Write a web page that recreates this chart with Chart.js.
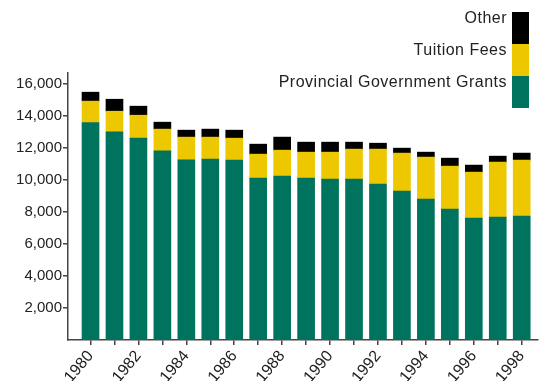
<!DOCTYPE html>
<html>
<head>
<meta charset="utf-8">
<script src="https://cdn.jsdelivr.net/npm/chart.js@4/dist/chart.umd.min.js"></script>
<style>
  html, body { margin: 0; padding: 0; background: #fff; }
  #wrap { width: 546px; height: 381px; position: relative; }
</style>
</head>
<body>
<div id="wrap"><canvas id="c" width="546" height="381"></canvas></div>
<script>
const years = [1980,1981,1982,1983,1984,1985,1986,1987,1988,1989,1990,1991,1992,1993,1994,1995,1996,1997,1998];
const provincialGrants = [13600,13020,12625,11830,11270,11310,11250,10125,10250,10125,10060,10060,9750,9310,8810,8190,7625,7690,7750];
const tuitionFees = [1340,1290,1435,1360,1420,1380,1375,1500,1625,1625,1690,1880,2190,2380,2630,2685,2875,3435,3500];
const other = [560,750,565,435,435,500,500,625,815,625,625,435,370,310,310,500,440,375,440];
const yTicks = [2000,4000,6000,8000,10000,12000,14000,16000];

const GREEN = '#00735f', YELLOW = '#edc800', BLACK = '#000000';
const FONT = 'Liberation Sans, Arial, Helvetica, sans-serif';
const TEXT = '#222222';
const AXIS = '#444444';

const legendPlugin = {
  id: 'stackLegend',
  afterDraw(chart) {
    const ctx = chart.ctx;
    const ds = chart.data.datasets;
    const order = [2, 1, 0];
    const bx = 512, bw = 17, bh = 32, by0 = 12;
    ctx.save();
    ctx.font = '16px ' + FONT;
    if ('letterSpacing' in ctx) ctx.letterSpacing = '0.5px';
    ctx.textAlign = 'right';
    ctx.textBaseline = 'middle';
    order.forEach((di, i) => {
      const y = by0 + i * bh;
      ctx.fillStyle = ds[di].backgroundColor;
      ctx.fillRect(bx, y, bw, bh);
      ctx.fillStyle = TEXT;
      ctx.fillText(ds[di].label, bx - 5, y + 6.5);
    });
    ctx.restore();
  }
};

new Chart(document.getElementById('c'), {
  type: 'bar',
  data: {
    labels: years,
    datasets: [
      { label: 'Provincial Government Grants', data: provincialGrants, backgroundColor: GREEN },
      { label: 'Tuition Fees', data: tuitionFees, backgroundColor: YELLOW },
      { label: 'Other', data: other, backgroundColor: BLACK }
    ]
  },
  options: {
    responsive: false,
    animation: false,
    devicePixelRatio: 1,
    layout: { padding: { top: 73, right: 8, left: 0, bottom: 0 } },
    plugins: { legend: { display: false }, tooltip: { enabled: false } },
    datasets: { bar: { barThickness: 17, borderWidth: 0 } },
    scales: {
      x: {
        type: 'linear',
        stacked: true,
        offset: false,
        min: 1979.06,
        max: 1998.68,
        afterBuildTicks(axis) { axis.ticks = years.map(v => ({ value: v })); },
        afterFit(axis) { axis.height = 41; },
        grid: { drawOnChartArea: false, drawTicks: true, tickLength: 5, color: AXIS, lineWidth: 1.5, offset: false },
        border: { color: AXIS, width: 1.5 },
        ticks: {
          autoSkip: false,
          minRotation: 50,
          maxRotation: 50,
          padding: 2,
          color: TEXT,
          font: { family: FONT, size: 16 },
          callback: (v) => (v % 2 === 0 ? String(v) : '')
        }
      },
      y: {
        stacked: true,
        min: 0,
        max: 16700,
        afterBuildTicks(axis) { axis.ticks = yTicks.map(v => ({ value: v })); },
        afterFit(axis) { axis.width = 68; },
        grid: { drawOnChartArea: false, drawTicks: true, tickLength: 5, color: AXIS, lineWidth: 1.5 },
        border: { color: AXIS, width: 1.5 },
        ticks: {
          padding: 1,
          color: TEXT,
          font: { family: FONT, size: 15 },
          callback: (v) => v.toLocaleString('en-US')
        }
      }
    }
  },
  plugins: [legendPlugin]
});
</script>
</body>
</html>
